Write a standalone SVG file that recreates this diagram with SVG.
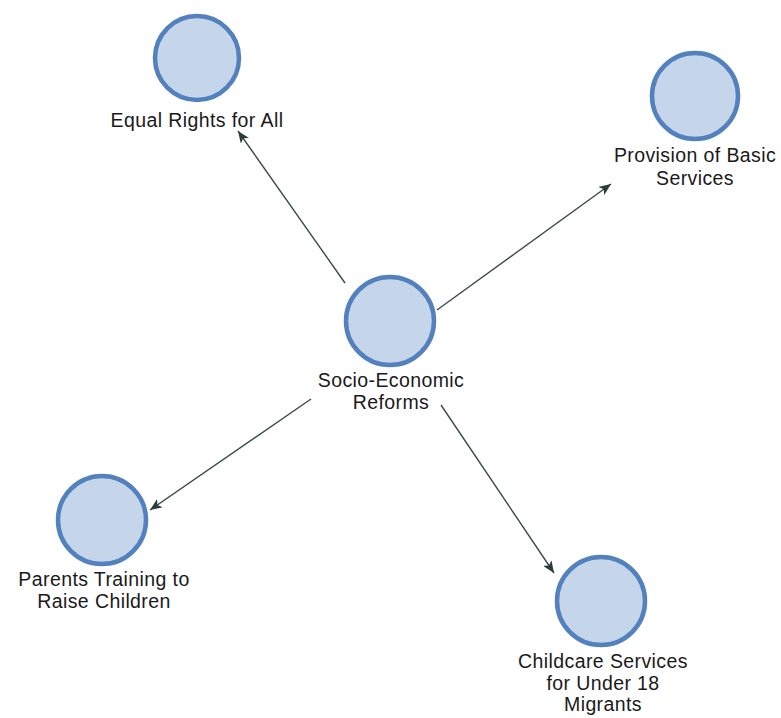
<svg xmlns="http://www.w3.org/2000/svg" width="781" height="718" viewBox="0 0 781 718">
  <style>
    .node circle { fill: #c5d5ea; stroke: #5281bd; stroke-width: 4.5; }
    .node text { font-family: "Liberation Sans", Arial, sans-serif; font-size: 19.5px; letter-spacing: 0.4px; fill: #1a1a1a; text-anchor: middle; }
    .edge { stroke: #3b4a4a; stroke-width: 1.4; fill: none; marker-end: url(#arrow); }
  </style>
  <defs>
    <marker id="arrow" viewBox="0 0 12 10" refX="12" refY="5" markerWidth="12" markerHeight="10" markerUnits="userSpaceOnUse" orient="auto">
      <path d="M0,0 L12,5 L0,10 L3,5 Z" fill="#2e3b3b"/>
    </marker>
  </defs>
  <rect width="781" height="718" fill="#ffffff"/>

  <!-- connectors -->
  <g id="connectors">
    <line class="edge" x1="345" y1="283" x2="238" y2="131"/>
    <line class="edge" x1="437" y1="310" x2="611" y2="184"/>
    <line class="edge" x1="311" y1="399" x2="150" y2="510"/>
    <line class="edge" x1="441" y1="405" x2="554" y2="573"/>
  </g>

  <!-- nodes -->
  <g id="socio-economic-reforms" class="node">
    <circle cx="390" cy="321" r="44"/>
    <text x="391" y="387">Socio-Economic</text>
    <text x="391" y="409">Reforms</text>
  </g>
  <g id="equal-rights" class="node">
    <circle cx="197" cy="58" r="42"/>
    <text x="197" y="127">Equal Rights for All</text>
  </g>
  <g id="basic-services" class="node">
    <circle cx="695" cy="96" r="43"/>
    <text x="695" y="162">Provision of Basic</text>
    <text x="695" y="185">Services</text>
  </g>
  <g id="parents-training" class="node">
    <circle cx="102" cy="520" r="44"/>
    <text x="104" y="586">Parents Training to</text>
    <text x="104" y="608">Raise Children</text>
  </g>
  <g id="childcare-services" class="node">
    <circle cx="601" cy="601" r="44"/>
    <text x="603" y="668">Childcare Services</text>
    <text x="603" y="690">for Under 18</text>
    <text x="603" y="711">Migrants</text>
  </g>
</svg>
